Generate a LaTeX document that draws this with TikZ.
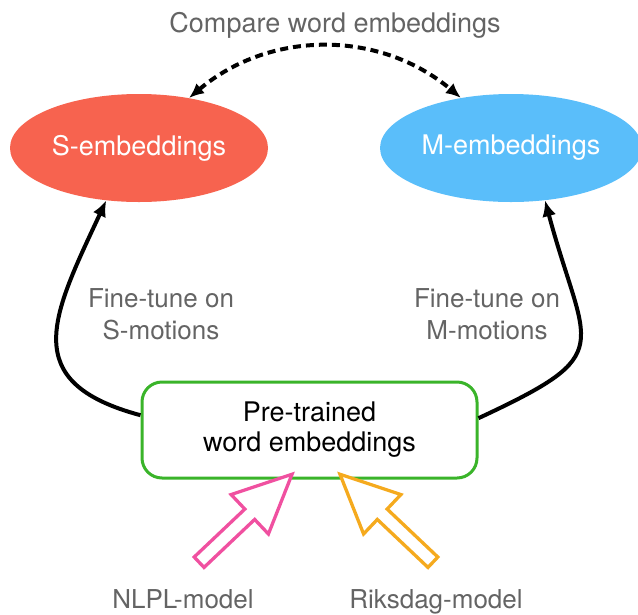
\documentclass[tikz,border=0pt]{standalone}
\usepackage{fontspec}
\setmainfont{TeX Gyre Heros}
\usetikzlibrary{shapes.geometric,shapes.arrows,arrows.meta}

\definecolor{sred}{RGB}{247,99,79}
\definecolor{mblue}{RGB}{90,190,250}
\definecolor{boxgreen}{RGB}{58,180,42}
\definecolor{nlplpink}{RGB}{240,80,160}
\definecolor{riksorange}{RGB}{245,170,30}
\definecolor{labelgray}{RGB}{100,100,100}

\tikzset{
  embed/.style={ellipse, minimum width=258pt, minimum height=108pt, text=white, font=\fontsize{27}{32}\selectfont},
  pretrained/.style={draw=boxgreen, line width=3pt, rounded corners=20pt, minimum width=335pt, minimum height=96pt, align=center, font=\fontsize{27}{30}\selectfont},
  caption/.style={text=labelgray, align=center, font=\fontsize{26}{32}\selectfont},
  tune/.style={line width=4pt, -{Latex[length=16pt,width=14pt]}},
  compare/.style={line width=4pt, dash pattern=on 8pt off 5pt, {Latex[length=15pt,width=13pt]}-{Latex[length=15pt,width=13pt]}},
  hollow/.style={single arrow, line width=3.3pt, fill=white, inner sep=0pt, text height=11pt, text depth=0pt, minimum height=128pt, single arrow head extend=20pt, single arrow tip angle=50, sloped, allow upside down},
}

\begin{document}
\begin{tikzpicture}[x=1pt, y=1pt]
  \useasboundingbox (0,0) rectangle (638,-614);

  % Draw the embedding ellipses
  \node[embed, fill=sred] (S) at (139,-148) {S-embeddings};
  \node[embed, fill=mblue] (M) at (511,-148) {M-embeddings};

  % Draw the box with the pre-trained embeddings
  \node[pretrained] (B) at (309.5,-430) {Pre-trained\\word embeddings};

  % Draw the labels
  \node[caption, anchor=base, font=\fontsize{27}{32}\selectfont] (cmp) at (335,-32) {Compare word embeddings};
  \node[caption] (tuneS) at (161,-314) {Fine-tune on\\S-motions};
  \node[caption] (tuneM) at (487,-314) {Fine-tune on\\M-motions};
  \node[caption, anchor=base] (nlpl) at (183,-608) {NLPL-model};
  \node[caption, anchor=base] (riks) at (436,-608) {Riksdag-model};

  % Draw the fine-tuning arrows
  \draw[tune] (B.175) to[out=165, in=245, looseness=1.5] (S.238);
  \draw[tune] (B.4) to[out=25, in=285, looseness=1.75] (M.303);

  % Draw the dashed comparison arrow
  \draw[compare] (S.45) to[bend left=40] (M.135);

  % Draw the hollow arrows from the models
  \coordinate (nlplTail) at (193,-568);
  \coordinate (nlplTip) at (287,-479);
  \coordinate (riksTail) at (439,-568);
  \coordinate (riksTip) at (345,-479);
  \path (nlplTail) -- (nlplTip) node[hollow, draw=nlplpink, midway] (nlplArrow) {};
  \path (riksTail) -- (riksTip) node[hollow, draw=riksorange, midway] (riksArrow) {};
\end{tikzpicture}
\end{document}
